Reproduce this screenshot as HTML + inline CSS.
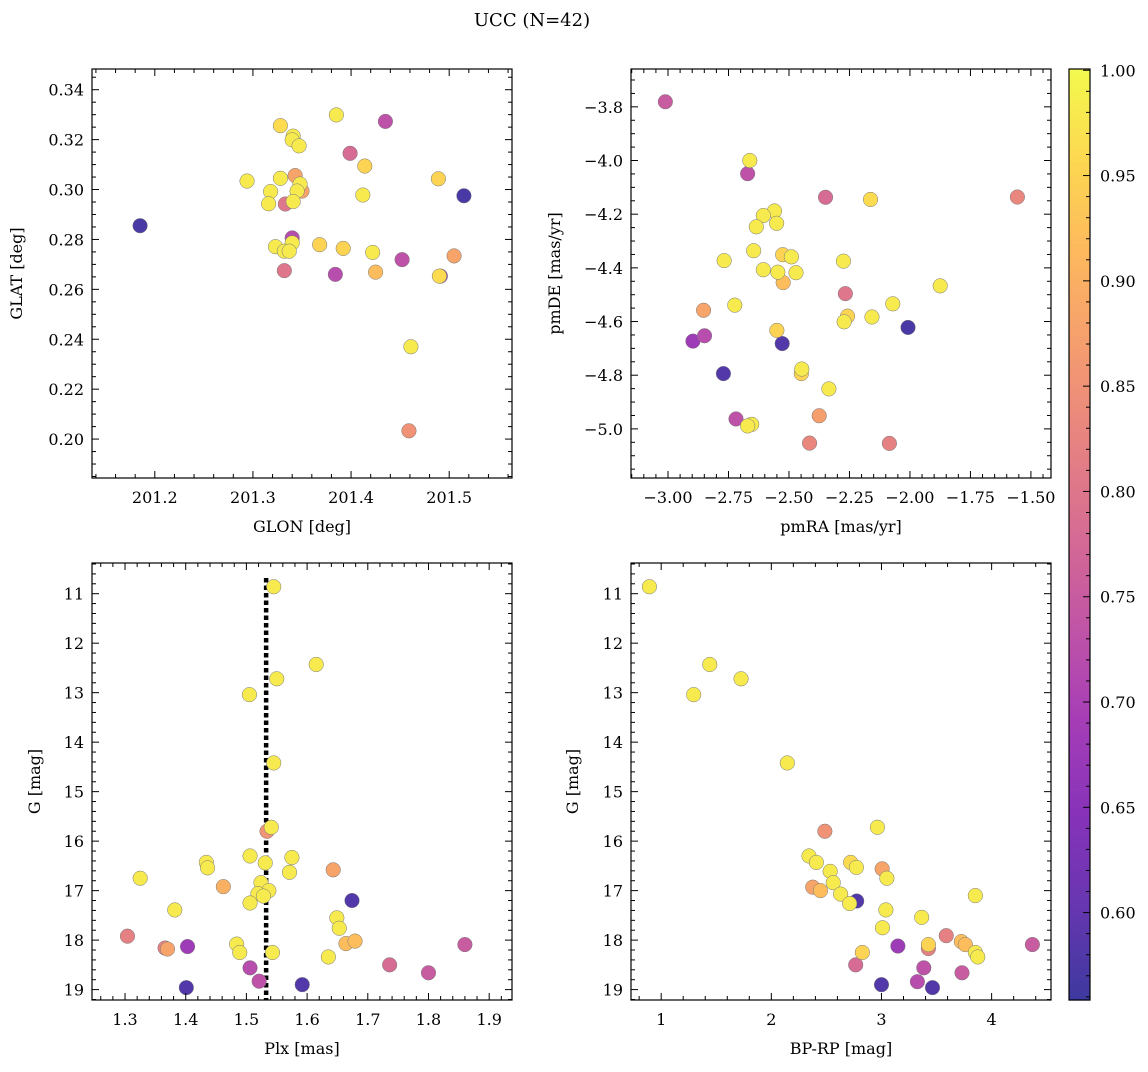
<!DOCTYPE html>
<html><head><meta charset="utf-8"><style>
body{margin:0;background:#fff}
svg text{font-family:"DejaVu Serif","Liberation Serif",serif;fill:#000}
</style></head><body>
<svg id="fig" width="1148" height="1067" viewBox="0 0 1148 1067" xmlns="http://www.w3.org/2000/svg">
<text x="532" y="26" font-size="18" text-anchor="middle">UCC (N=42)</text>
</svg>
<script>
// Panel 1: GLON vs GLAT
const glon=[201.185,201.294,201.318,201.316,201.328,201.328,201.341,201.340,201.347,201.343,201.348,201.350,201.345,201.333,201.341,201.340,201.340,201.323,201.332,201.337,201.332,201.368,201.385,201.435,201.399,201.414,201.412,201.384,201.392,201.422,201.425,201.452,201.489,201.515,201.505,201.491,201.490,201.461,201.459];
const glat=[0.2855,0.3034,0.2992,0.2943,0.3256,0.3045,0.3214,0.3199,0.3175,0.3056,0.3022,0.2994,0.2994,0.2942,0.2952,0.2806,0.2786,0.2771,0.2753,0.2753,0.2675,0.2779,0.3299,0.3273,0.3145,0.3094,0.2978,0.2660,0.2764,0.2748,0.2669,0.2719,0.3043,0.2975,0.2734,0.2653,0.2653,0.2370,0.2033];
const prob1=[0.57,0.98,0.98,0.98,0.96,0.98,0.98,0.98,0.98,0.88,0.98,0.88,0.98,0.8,0.98,0.72,0.98,0.98,0.98,0.98,0.8,0.95,0.98,0.73,0.78,0.95,0.98,0.72,0.95,0.98,0.92,0.73,0.95,0.57,0.88,0.68,0.96,0.98,0.85];
// Panel 2: pmRA vs pmDE
const pmra=[-3.011,-2.662,-2.671,-2.349,-2.163,-1.556,-2.560,-2.606,-2.551,-2.635,-2.646,-2.526,-2.490,-2.768,-2.275,-2.606,-2.546,-2.471,-2.524,-1.875,-2.267,-2.724,-2.071,-2.853,-2.258,-2.272,-2.157,-2.008,-2.550,-2.849,-2.897,-2.528,-2.771,-2.447,-2.449,-2.335,-2.375,-2.719,-2.654,-2.671,-2.415,-2.085];
const pmde=[-3.781,-4.0,-4.049,-4.137,-4.145,-4.136,-4.188,-4.205,-4.234,-4.247,-4.336,-4.351,-4.359,-4.373,-4.375,-4.407,-4.416,-4.418,-4.455,-4.467,-4.496,-4.539,-4.534,-4.558,-4.580,-4.601,-4.583,-4.622,-4.633,-4.653,-4.673,-4.682,-4.794,-4.777,-4.794,-4.851,-4.951,-4.963,-4.983,-4.989,-5.053,-5.054];
const prob2=[0.75,0.98,0.73,0.78,0.96,0.83,0.98,0.98,0.98,0.98,0.98,0.95,0.98,0.98,0.98,0.98,0.98,0.98,0.92,0.98,0.8,0.98,0.98,0.88,0.95,0.98,0.98,0.57,0.95,0.72,0.68,0.58,0.58,0.98,0.95,0.98,0.87,0.73,0.98,0.98,0.83,0.82];
// Panel 3: Plx vs G
const plx=[1.545,1.615,1.55,1.505,1.545,1.541,1.534,1.506,1.434,1.436,1.531,1.575,1.571,1.643,1.325,1.462,1.524,1.537,1.519,1.528,1.506,1.674,1.382,1.649,1.653,1.304,1.366,1.370,1.403,1.484,1.489,1.543,1.664,1.679,1.635,1.506,1.521,1.401,1.592,1.736,1.800,1.860];
const gmag=[10.86,12.43,12.72,13.04,14.42,15.72,15.80,16.30,16.43,16.54,16.44,16.33,16.63,16.58,16.75,16.92,16.84,17.0,17.06,17.11,17.25,17.2,17.39,17.55,17.76,17.92,18.16,18.18,18.13,18.08,18.25,18.25,18.07,18.02,18.34,18.56,18.83,18.96,18.90,18.5,18.66,18.09];
const prob3=[0.98,0.98,0.98,0.98,0.98,0.98,0.85,0.98,0.98,0.98,0.98,0.98,0.98,0.88,0.98,0.9,0.98,0.98,0.98,0.98,0.98,0.58,0.98,0.98,0.98,0.82,0.82,0.88,0.68,0.98,0.98,0.98,0.92,0.92,0.98,0.72,0.73,0.58,0.58,0.78,0.75,0.75];
// Panel 4: BP-RP vs G
const bprp=[0.893,1.295,1.441,1.725,2.145,2.486,2.963,2.342,2.409,2.534,2.562,2.629,2.711,2.775,2.720,2.772,3.006,3.049,2.376,2.446,3.040,3.009,3.365,3.852,3.588,3.725,3.761,3.852,3.874,3.426,3.426,3.149,2.826,2.766,3.384,3.731,3.326,3.0,3.463,4.370];
const gmag4=[10.86,13.04,12.43,12.72,14.42,15.80,15.72,16.30,16.43,16.61,16.84,17.07,17.26,17.21,16.43,16.53,16.56,16.75,16.93,17.00,17.39,17.75,17.54,17.10,17.91,18.03,18.09,18.25,18.34,18.17,18.09,18.12,18.25,18.50,18.56,18.66,18.84,18.90,18.96,18.09];
const prob4=[0.98,0.98,0.98,0.98,0.98,0.85,0.98,0.98,0.98,0.98,0.98,0.98,0.98,0.58,0.96,0.98,0.88,0.98,0.88,0.92,0.98,0.98,0.98,0.98,0.82,0.92,0.92,0.98,0.98,0.82,0.95,0.68,0.95,0.78,0.73,0.75,0.72,0.58,0.58,0.75];
// Colorbar ticks
const cbTicks=[0.60,0.65,0.70,0.75,0.80,0.85,0.90,0.95,1.00];

const NS="http://www.w3.org/2000/svg";
const svg=document.getElementById('fig');
function el(tag,attrs,parent){const e=document.createElementNS(NS,tag);for(const k in attrs)e.setAttribute(k,attrs[k]);(parent||svg).appendChild(e);return e;}
const PMIN=0.5585,PMAX=1.0006;
const stops=["#0d0887","#41049d","#6a00a8","#8f0da4","#b12a90","#cc4778","#e16462","#f2844b","#fca636","#fcce25","#f0f921"];
function hex(h){return[1,3,5].map(i=>parseInt(h.substr(i,2),16));}
function cmap(t){t=Math.max(0,Math.min(1,t));const f=t*10,i=Math.min(9,Math.floor(f)),u=f-i;const a=hex(stops[i]),b=hex(stops[i+1]);
 const c=a.map((v,k)=>v+(b[k]-v)*u).map(v=>Math.round(v*0.8+255*0.2));return `rgb(${c[0]},${c[1]},${c[2]})`;}
function colorOf(p){return cmap((p-PMIN)/(PMAX-PMIN));}

function panel(o){
 const g=el('g',{});
 
 
 const X=v=>o.x0+(v-o.xmin)/(o.xmax-o.xmin)*(o.x1-o.x0);
 const Y=o.invert? v=>o.y0+(v-o.ymin)/(o.ymax-o.ymin)*(o.y1-o.y0) : v=>o.y1-(v-o.ymin)/(o.ymax-o.ymin)*(o.y1-o.y0);
 if(o.extra)o.extra(g,X,Y);
 const idx=o.xs.map((_,i)=>i).sort((a,b)=>o.ps[a]-o.ps[b]);
 idx.forEach(i=>{const c=el('circle',{cx:X(o.xs[i]),cy:Y(o.ys[i]),r:7.3,fill:colorOf(o.ps[i]),stroke:'#777','stroke-width':0.5},g);
  
  });
 const f=el('rect',{x:o.x0,y:o.y0,width:o.x1-o.x0,height:o.y1-o.y0,fill:'none',stroke:'#000','stroke-width':1.2},g);
 
 
 const eps=1e-9;
 for(let v=Math.ceil(o.xmin/o.xmi)*o.xmi;v<=o.xmax+eps;v+=o.xmi){const px=X(v);const maj=Math.abs(v/o.xma-Math.round(v/o.xma))<1e-4;const L=maj?7:4;
  el('line',{x1:px,x2:px,y1:o.y1,y2:o.y1-L,stroke:'#000','stroke-width':1},g);el('line',{x1:px,x2:px,y1:o.y0,y2:o.y0+L,stroke:'#000','stroke-width':1},g);}
 o.xt.forEach(v=>{const t=el('text',{x:X(v),y:o.y1+25,'font-size':16,'text-anchor':'middle'},g);t.textContent=o.xf(v);
  });
 for(let v=Math.ceil(o.ymin/o.ymi)*o.ymi;v<=o.ymax+eps;v+=o.ymi){const py=Y(v);const maj=Math.abs(v/o.yma-Math.round(v/o.yma))<1e-4;const L=maj?7:4;
  el('line',{x1:o.x0,x2:o.x0+L,y1:py,y2:py,stroke:'#000','stroke-width':1},g);el('line',{x1:o.x1,x2:o.x1-L,y1:py,y2:py,stroke:'#000','stroke-width':1},g);}
 o.yt.forEach(v=>{const t=el('text',{x:o.x0-8,y:Y(v)+6,'font-size':16,'text-anchor':'end'},g);t.textContent=o.yf(v);
  });
 const xl=el('text',{x:(o.x0+o.x1)/2,y:o.y1+54,'font-size':16,'text-anchor':'middle'},g);xl.textContent=o.xlab;
 
 const cy=(o.y0+o.y1)/2;const yl=el('text',{x:o.ylx,y:cy,'font-size':16,'text-anchor':'middle',transform:`rotate(-90 ${o.ylx} ${cy})`},g);yl.textContent=o.ylab;
 
}
const minus=s=>s.replace('-','\u2212');
const TX0=92,TX1=512,RX0=631,RX1=1051,TY0=69,TY1=478,BY0=563,BY1=1000;
panel({name:'glon-glat-panel',x0:TX0,x1:TX1,y0:TY0,y1:TY1,xmin:201.136,xmax:201.564,ymin:0.1844,ymax:0.3483,
 xs:glon,ys:glat,ps:prob1,xma:0.1,xmi:0.02,yma:0.02,ymi:0.005,xt:[201.2,201.3,201.4,201.5],yt:[0.20,0.22,0.24,0.26,0.28,0.30,0.32,0.34],
 xf:v=>v.toFixed(1),yf:v=>v.toFixed(2),xlab:'GLON [deg]',ylab:'GLAT [deg]',ylx:22});
panel({name:'pmra-pmde-panel',x0:RX0,x1:RX1,y0:TY0,y1:TY1,xmin:-3.153,xmax:-1.417,ymin:-5.183,ymax:-3.659,
 xs:pmra,ys:pmde,ps:prob2,xma:0.25,xmi:0.05,yma:0.2,ymi:0.05,xt:[-3,-2.75,-2.5,-2.25,-2,-1.75,-1.5],yt:[-5,-4.8,-4.6,-4.4,-4.2,-4,-3.8],
 xf:v=>minus(v.toFixed(2)),yf:v=>minus(v.toFixed(1)),xlab:'pmRA [mas/yr]',ylab:'pmDE [mas/yr]',ylx:560});
panel({name:'plx-g-panel',x0:TX0,x1:TX1,y0:BY0,y1:BY1,xmin:1.2456,xmax:1.9376,ymin:10.38,ymax:19.21,invert:true,
 xs:plx,ys:gmag,ps:prob3,xma:0.1,xmi:0.02,yma:1,ymi:0.2,xt:[1.3,1.4,1.5,1.6,1.7,1.8,1.9],yt:[11,12,13,14,15,16,17,18,19],
 xf:v=>v.toFixed(1),yf:v=>String(v),xlab:'Plx [mas]',ylab:'G [mag]',ylx:40,
 extra:(g,X,Y)=>{const l=el('line',{x1:X(1.5325),x2:X(1.5325),y1:BY0+15,y2:BY1,stroke:'#000','stroke-width':4.5,'stroke-dasharray':'4.5 3'},g);
  }});
panel({name:'bprp-g-panel',x0:RX0,x1:RX1,y0:BY0,y1:BY1,xmin:0.726,xmax:4.539,ymin:10.38,ymax:19.21,invert:true,
 xs:bprp,ys:gmag4,ps:prob4,xma:1,xmi:0.2,yma:1,ymi:0.2,xt:[1,2,3,4],yt:[11,12,13,14,15,16,17,18,19],
 xf:v=>String(v),yf:v=>String(v),xlab:'BP-RP [mag]',ylab:'G [mag]',ylx:578});
(function(){const x0=1069,x1=1090,y0=69,y1=1000;const g=el('g',{});
 
 for(let i=0;i<240;i++){const t=i/240;el('rect',{x:x0,y:y1-(i+1)*(y1-y0)/240,width:x1-x0,height:(y1-y0)/240+0.6,fill:cmap(t)},g);}
 el('rect',{x:x0,y:y0,width:x1-x0,height:y1-y0,fill:'none',stroke:'#000','stroke-width':1.2},g);
 const Y=v=>y1-(v-PMIN)/(PMAX-PMIN)*(y1-y0);
 for(let v=0.56;v<=PMAX+1e-9;v+=0.01){const py=Y(v);const maj=Math.abs(v*20-Math.round(v*20))<1e-4;const L=maj?7:4;
  el('line',{x1:x1,x2:x1-L,y1:py,y2:py,stroke:'#000'},g);}
 cbTicks.forEach(v=>{const t=el('text',{x:x1+10,y:Y(v)+6,'font-size':16},g);t.textContent=v.toFixed(2);
  });
})();
</script>
</body></html>
